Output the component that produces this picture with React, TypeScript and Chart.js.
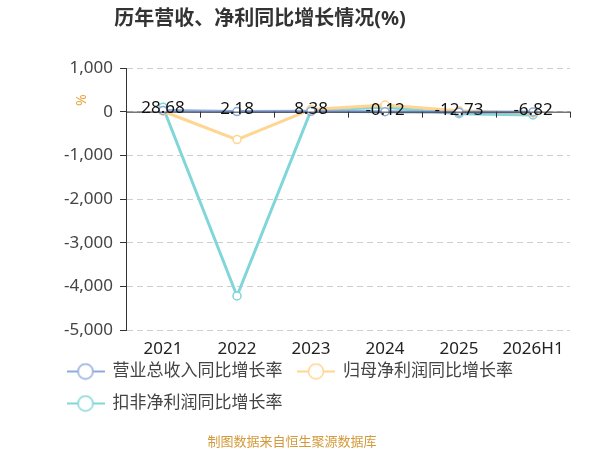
import { useEffect, useRef } from "react";
import { Chart, registerables } from "chart.js";

Chart.register(...registerables);

const years = ["2021", "2022", "2023", "2024", "2025", "2026H1"];
const revenueGrowth = [28.68, 2.18, 8.38, -0.12, -12.73, -6.82];
const netProfitGrowth = [10, -640, 50, 150, 20, -35];
const deductedGrowth = [100, -4220, 30, 100, -45, -75];
const yTicks = [1000, 0, -1000, -2000, -3000, -4000, -5000];

const seriesNames = ["营业总收入同比增长率", "归母净利润同比增长率", "扣非净利润同比增长率"];
const seriesColors = ["#8eaadc", "#ffd591", "#80d6d9"];

const FONT = '"Noto Sans", "Noto Sans CJK SC", sans-serif';

// legend icon: a line with a hollow circle
function makeIcon(color: string) {
  const c = document.createElement("canvas");
  c.width = 38;
  c.height = 18;
  const ctx = c.getContext("2d")!;
  ctx.strokeStyle = color;
  ctx.lineWidth = 2;
  ctx.beginPath();
  ctx.moveTo(0, 9);
  ctx.lineTo(38, 9);
  ctx.stroke();
  ctx.beginPath();
  ctx.arc(19, 9, 7.5, 0, Math.PI * 2);
  ctx.fillStyle = "#fff";
  ctx.fill();
  ctx.lineWidth = 1.5;
  ctx.stroke();
  return c;
}

const decorPlugin = {
  id: "decor",
  afterDatasetsDraw(chart: any) {
    const { ctx, scales, chartArea } = chart;
    const x = scales.x;
    const y = scales.y;
    const y0 = y.getPixelForValue(0);

    // zero axis line with ticks between categories
    ctx.save();
    ctx.strokeStyle = "#333";
    ctx.lineWidth = 1;
    ctx.beginPath();
    ctx.moveTo(chartArea.left, y0 + 0.5);
    ctx.lineTo(chartArea.right, y0 + 0.5);
    for (let i = 0; i < years.length; i++) {
      const px =
        i < years.length - 1
          ? (x.getPixelForValue(i) + x.getPixelForValue(i + 1)) / 2
          : chartArea.right;
      ctx.moveTo(Math.round(px) + 0.5, y0);
      ctx.lineTo(Math.round(px) + 0.5, y0 + 6);
    }
    ctx.stroke();

    // value labels for revenue series
    ctx.fillStyle = "#111";
    ctx.font = `17px ${FONT}`;
    ctx.textAlign = "center";
    ctx.textBaseline = "middle";
    const meta = chart.getDatasetMeta(0);
    meta.data.forEach((pt: any, i: number) => {
      ctx.fillText(revenueGrowth[i].toFixed(2), pt.x, pt.y - 2);
    });

    // category labels under the plot (scale box clips its own labels)
    ctx.fillStyle = "#222";
    years.forEach((label, i) => {
      ctx.fillText(label, x.getPixelForValue(i), chartArea.bottom + 19);
    });
    ctx.restore();
  },
  afterDraw(chart: any) {
    const { ctx } = chart;
    ctx.save();
    ctx.fillStyle = "#333";
    ctx.font = `bold 20px ${FONT}`;
    ctx.textAlign = "center";
    ctx.textBaseline = "middle";
    ctx.fillText("历年营收、净利同比增长情况(%)", 260, 19);

    ctx.fillStyle = "#d49a3a";
    ctx.font = `13px ${FONT}`;
    ctx.fillText("制图数据来自恒生聚源数据库", 292, 442);

    ctx.translate(80, 100);
    ctx.rotate(Math.PI / 2);
    ctx.fillStyle = "#e8a33c";
    ctx.font = `14px ${FONT}`;
    ctx.fillText("%", 0, 0);
    ctx.restore();
  },
};

export default function App() {
  const chartRef = useRef<HTMLCanvasElement>(null);
  const chartInstance = useRef<Chart | null>(null);

  useEffect(() => {
    if (!chartRef.current) return;
    if (chartInstance.current) {
      chartInstance.current.destroy();
    }
    const ctx = chartRef.current.getContext("2d");
    if (!ctx) return;

    const allData = [revenueGrowth, netProfitGrowth, deductedGrowth];
    const icons = seriesColors.map(makeIcon);

    chartInstance.current = new Chart(ctx, {
      type: "line",
      data: {
        labels: years,
        datasets: allData.map((d, i) => ({
          label: seriesNames[i],
          data: d,
          borderColor: seriesColors[i],
          backgroundColor: "#fff",
          borderWidth: 3,
          pointRadius: 4,
          pointBorderWidth: 1.5,
          pointBackgroundColor: "#fff",
          pointBorderColor: seriesColors[i],
          tension: 0,
        })),
      },
      options: {
        responsive: true,
        maintainAspectRatio: false,
        animation: false,
        layout: {
          padding: { top: 68, left: 52, right: 30, bottom: 28 },
        },
        plugins: {
          title: { display: false },
          tooltip: { enabled: false },
          legend: {
            position: "bottom",
            align: "start",
            labels: {
              usePointStyle: true,
              pointStyleWidth: 37,
              padding: 15,
              color: "#444",
              font: { family: FONT, size: 17 },
              generateLabels: () =>
                seriesNames.map((name, i) => ({
                  text: name,
                  pointStyle: icons[i],
                  fillStyle: "#fff",
                  strokeStyle: seriesColors[i],
                  lineWidth: 0,
                  hidden: false,
                  datasetIndex: i,
                  fontColor: "#444",
                })),
            },
          },
        },
        scales: {
          x: {
            offset: true,
            grid: { display: false, drawTicks: false },
            border: { display: false },
            ticks: { display: false },
            afterFit: (scale: any) => {
              scale.height = 18;
            },
          },
          y: {
            min: -5000,
            max: 1000,
            afterBuildTicks: (scale: any) => {
              scale.ticks = yTicks.map((v) => ({ value: v }));
            },
            grid: {
              color: "#cfcfcf",
              tickColor: "#333",
              tickLength: 6,
              tickBorderDash: [],
            },
            border: { display: true, color: "#333", width: 1, dash: [6, 4] },
            ticks: {
              color: "#444",
              padding: 7,
              font: { family: FONT, size: 17 },
              callback: (v: any) => Number(v).toLocaleString("en-US"),
            },
            afterFit: (scale: any) => {
              scale.width = 74;
            },
          },
        },
      },
      plugins: [decorPlugin],
    });

    return () => {
      if (chartInstance.current) {
        chartInstance.current.destroy();
        chartInstance.current = null;
      }
    };
  }, []);

  return (
    <div style={{ position: "fixed", left: 0, top: 0, width: 600, height: 450, background: "#fff" }}>
      <canvas ref={chartRef} />
    </div>
  );
}
